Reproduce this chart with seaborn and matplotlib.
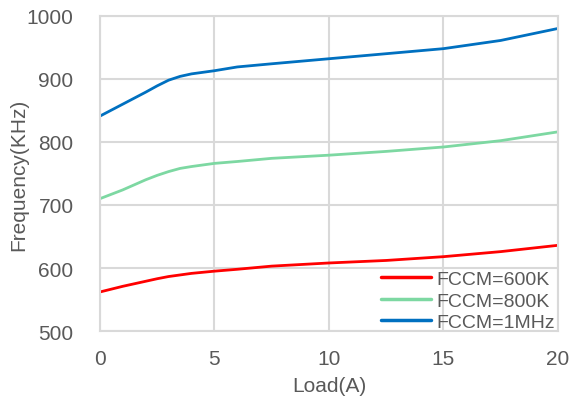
import matplotlib
matplotlib.use("Agg")
import matplotlib.pyplot as plt
import seaborn as sns
import pandas as pd

load = [0, 1, 2, 2.5, 3, 3.5, 4, 5, 6, 7.5, 10, 12.5, 15, 17.5, 20]
f600 = [562, 571, 579, 583, 586.5, 589, 591.5, 595, 598, 603, 608, 612, 618, 626, 636]
f800 = [710, 724, 740, 747, 753, 758, 761, 766, 769, 774, 779, 785, 792, 802, 816]
f1m = [841, 860, 879, 889, 898, 904, 908, 913, 919, 924, 932, 940, 948, 961, 980]
series = ["FCCM=600K", "FCCM=800K", "FCCM=1MHz"]
colors = ["#FF0000", "#7DD8A2", "#0070C0"]
xticks = [0, 5, 10, 15, 20]
yticks = [500, 600, 700, 800, 900, 1000]

df = pd.concat([
    pd.DataFrame({"Load": load, "Freq": vals, "Series": name})
    for name, vals in zip(series, [f600, f800, f1m])
])

sns.set_theme(style="white")
plt.rcParams["font.family"] = ["Liberation Sans", "DejaVu Sans"]

fig = plt.figure(figsize=(5.71, 4.02), dpi=100)
ax = fig.add_axes([0.175, 0.174, 0.802, 0.784])
sns.lineplot(data=df, x="Load", y="Freq", hue="Series", palette=colors,
             hue_order=series, linewidth=2, ax=ax)

ax.set_xlim(0, 20)
ax.set_ylim(500, 1000)
ax.set_xticks(xticks)
ax.set_yticks(yticks)
ax.grid(True, color="#D9D9D9", linewidth=1.5)
ax.set_axisbelow(True)
for s in ax.spines.values():
    s.set_color("#D9D9D9")
    s.set_linewidth(1.5)
ax.tick_params(axis="both", labelsize=15, colors="#595959", length=0)
ax.tick_params(axis="x", pad=13)
ax.tick_params(axis="y", pad=19)
ax.set_xlabel("Load(A)", fontsize=15, color="#595959", va="center")
ax.set_ylabel("Frequency(KHz)", fontsize=15, color="#595959", va="center")
ax.xaxis.set_label_coords(0.5, -54 / 315)
ax.yaxis.set_label_coords(-81 / 458, 0.5)

leg = ax.legend(loc="lower right", bbox_to_anchor=(0.993, 0.0), frameon=False,
                fontsize=14, handlelength=2.6, labelspacing=0.2, borderpad=0.0,
                borderaxespad=0.0, handletextpad=0.25, labelcolor="#595959")
for line in leg.get_lines():
    line.set_linewidth(2.5)

fig.savefig("out.png", dpi=100)
